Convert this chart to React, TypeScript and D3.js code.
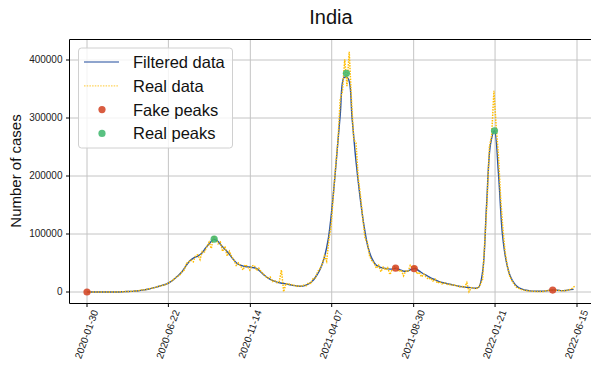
import React from 'react';
import * as d3 from 'd3';

// weekly values of the filtered curve, first point on START_DATE
const START_DATE = '2020-01-30';
const END_DATE = '2022-06-15';
const FILTERED_STEP_DAYS = 7;
const filteredData = [
  0, 0, 0, 0, 0, 0, 0, 50, 100, 400, 800, 1100, 1600, 2200, 3300, 4300, 5800, 7500, 9500, 11500,
  13500, 17000, 22000, 28000, 35000, 45000, 54000, 59000, 62000, 67000, 76000, 84000, 91000, 88000, 80000, 73000,
  65000, 56000, 49000, 46000, 44000, 43000, 42000, 40000, 34000, 28000, 23000, 19500, 17000, 15500, 14500,
  13000, 11500, 10500, 10000, 11000, 14000, 19000, 28000, 40000, 60000, 92000, 150000, 225000, 305000,
  370000, 368000, 300000, 225000, 165000, 115000, 78000, 58000, 47000, 43000, 41000, 40000, 39500, 41000,
  38500, 36000, 36000, 39000, 40500, 36000, 31500, 28000, 24000, 21000, 18000, 16000, 14500, 13000, 11500,
  10000, 9000, 8000, 7500, 6500, 8000, 35000, 150000, 255000, 278000, 205000, 100000, 52000, 27000, 15000,
  8000, 5000, 3000, 2000, 1500, 1300, 1300, 2000, 3000, 3400, 3000, 2400, 2500, 4000, 4500,
];

// raw daily counts, sampled every 4 days
const REAL_STEP_DAYS = 4;
const realData = [
  0, 0, 0, 0, 0, 0, 0, 0, 0, 10, 20, 20, 60, 90, 150, 400, 550, 800, 900, 1000,
  1400, 1700, 1900, 2500, 3500, 3300, 4000, 4900, 6000, 6800, 7500, 9300, 9900, 11500, 11000, 14000,
  15000, 18500, 20000, 24000, 27000, 29000, 35000, 38000, 49000, 52000, 55000, 52000, 62000, 64000,
  56000, 70000, 69000, 78000, 86000, 75000, 97000, 93000, 83000, 86000, 70000, 79000, 62000, 70000,
  61000, 55000, 46000, 50000, 45000, 38000, 47000, 44000, 38000, 45000, 46000, 37000, 41000, 35000,
  31000, 27000, 24000, 26000, 18000, 20000, 16000, 17000, 38000, 500, 15000, 13000, 14000, 11000,
  12000, 9000, 11000, 10000, 12000, 11000, 16000, 15000, 23000, 24000, 35000, 40000, 47000, 62000,
  53000, 90000, 115000, 168000, 217000, 260000, 332000, 346000, 401000, 355000, 414000, 330000,
  263000, 257000, 196000, 165000, 127000, 92000, 86000, 62000, 54000, 50000, 41000, 46000, 35000,
  43000, 38000, 42000, 30000, 39000, 44000, 41000, 35000, 38000, 28000, 36000, 35000, 46000, 42000,
  45000, 31000, 34000, 26000, 31000, 26000, 22000, 24000, 19000, 22000, 15000, 18000, 14000, 16000,
  14000, 12500, 13500, 11000, 12000, 10000, 9000, 9500, 8000, 16000, 500, 7500, 6500, 6000, 7000,
  13000, 22000, 90000, 160000, 250000, 270000, 347000, 285000, 235000, 160000, 107000, 67000, 44000,
  27000, 19000, 13000, 8000, 6500, 4500, 3600, 2500, 2000, 1800, 1300, 1100, 1000, 800, 1100, 1000,
  2200, 2500, 3300, 3200, 3000, 2800, 2500, 2200, 2100, 2700, 3700, 4300, 7500, 11000,
];

const fakePeakDates = ['2020-01-30', '2021-07-29', '2021-08-31', '2022-05-03'];
const fakePeakValues = [0, 41000, 40200, 3300];
const realPeakDates = ['2020-09-11', '2021-05-03', '2022-01-20'];
const realPeakValues = [91000, 377000, 278000];

const xTickLabels = ['2020-01-30', '2020-06-22', '2020-11-14', '2021-04-07', '2021-08-30', '2022-01-21', '2022-06-15'];
const yTicks = [0, 100000, 200000, 300000, 400000];

const FONT = '"Liberation Sans", Arial, sans-serif';
const BLUE = '#2a53a0';
const GOLD = '#ffbd00';
const RED = '#d2401f';
const GREEN = '#3cb66b';

const parse = d3.utcParse('%Y-%m-%d');

const App = () => {
  const width = 591, height = 369;
  const plot = {left: 69.5, right: 595, top: 39.5, bottom: 303.5};

  const start = parse(START_DATE) as Date;
  const end = parse(END_DATE) as Date;

  const x = d3.scaleUtc().domain([start, end]).range([87, 577]);
  const y = d3.scaleLinear().domain([0, 400000]).range([292, 60]);

  const filteredPts = filteredData.map((v, i) => [x(d3.utcDay.offset(start, i * FILTERED_STEP_DAYS)), y(v)] as [number, number]);
  const realPts = realData.map((v, i) => [x(d3.utcDay.offset(start, i * REAL_STEP_DAYS)), y(v)] as [number, number]);

  const smooth = d3.line().curve(d3.curveCatmullRom.alpha(0.5));
  const straight = d3.line();

  const legendRows = ['Filtered data', 'Real data', 'Fake peaks', 'Real peaks'];

  return (
    <svg width={width} height={height} style={{position: 'absolute', left: 0, top: 0, background: '#fff'}} fontFamily={FONT}>
      {/* grid */}
      <g stroke="#c4c4c4" strokeWidth={1}>
        {xTickLabels.map((t) => {
          const px = x(parse(t) as Date);
          return <line key={t} x1={px} x2={px} y1={plot.top} y2={plot.bottom} />;
        })}
        {yTicks.map((t) => (
          <line key={t} x1={plot.left} x2={plot.right} y1={y(t)} y2={y(t)} />
        ))}
      </g>

      {/* data */}
      <path d={smooth(filteredPts) || ''} fill="none" stroke={BLUE} strokeWidth={1.4} />
      <path d={straight(realPts) || ''} fill="none" stroke={GOLD} strokeWidth={1.5} strokeDasharray="1.5,1.2" />

      {fakePeakDates.map((d, i) => (
        <circle key={d} cx={x(parse(d) as Date)} cy={y(fakePeakValues[i])} r={3.6} fill={RED} opacity={0.85} />
      ))}
      {realPeakDates.map((d, i) => (
        <circle key={d} cx={x(parse(d) as Date)} cy={y(realPeakValues[i])} r={3.6} fill={GREEN} opacity={0.85} />
      ))}

      {/* spines */}
      <g stroke="#000" strokeWidth={1}>
        <line x1={plot.left} x2={plot.left} y1={plot.top} y2={plot.bottom} />
        <line x1={plot.left} x2={plot.right} y1={plot.bottom} y2={plot.bottom} />
        <line x1={plot.left} x2={plot.right} y1={plot.top} y2={plot.top} />
      </g>

      {/* y axis */}
      {yTicks.map((t) => (
        <g key={t}>
          <line x1={plot.left - 3.5} x2={plot.left} y1={y(t)} y2={y(t)} stroke="#000" />
          <text x={plot.left - 7} y={y(t)} dy="0.34em" textAnchor="end" fontSize={10} fill="#222">{t}</text>
        </g>
      ))}

      {/* x axis */}
      {xTickLabels.map((t) => {
        const px = x(parse(t) as Date);
        return (
          <g key={t}>
            <line x1={px} x2={px} y1={plot.bottom} y2={plot.bottom + 3.5} stroke="#000" />
            <text transform={`translate(${px + 11.5},${plot.bottom + 8}) rotate(-70)`} textAnchor="end" fontSize={10} fill="#222">{t}</text>
          </g>
        );
      })}

      <text x={21} y={171} transform="rotate(-90,21,171)" textAnchor="middle" fontSize={15} fill="#111">Number of cases</text>
      <text x={331} y={24} textAnchor="middle" fontSize={20} fill="#111">India</text>

      {/* legend */}
      <rect x={78.5} y={48} width={154} height={100} rx={3} fill="#fff" fillOpacity={0.8} stroke="#d0d0d0" />
      {legendRows.map((label, i) => {
        const ly = 62 + i * 23.8;
        return (
          <g key={label}>
            {i === 0 && <line x1={84} x2={119} y1={ly} y2={ly} stroke={BLUE} strokeWidth={1.4} opacity={0.7} />}
            {i === 1 && <line x1={84} x2={119} y1={ly} y2={ly} stroke={GOLD} strokeWidth={1.3} strokeDasharray="1.5,1.2" opacity={0.65} />}
            {i === 2 && <circle cx={102} cy={ly} r={3.6} fill={RED} opacity={0.85} />}
            {i === 3 && <circle cx={102} cy={ly} r={3.6} fill={GREEN} opacity={0.85} />}
            <text x={133} y={ly} dy="0.36em" fontSize={16.5} fill="#111">{label}</text>
          </g>
        );
      })}
    </svg>
  );
};

export default App;
